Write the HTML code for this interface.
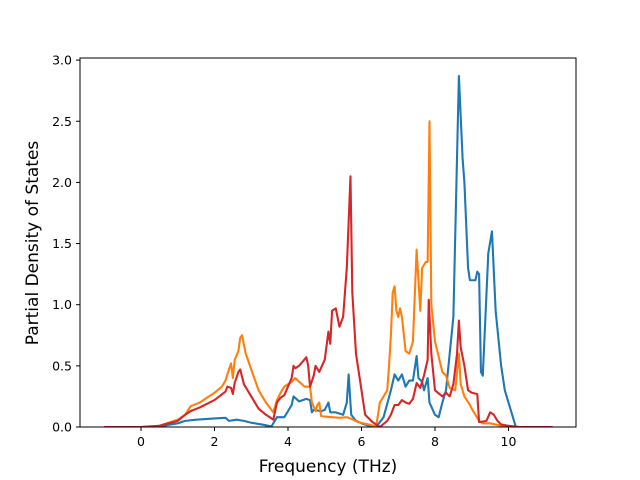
<!DOCTYPE html>
<html><head><meta charset="utf-8"><style>
html,body{margin:0;padding:0;background:#fff}
svg{display:block;font-family:"DejaVu Sans","Liberation Sans",sans-serif}
</style></head><body>
<svg id="chart" width="640" height="480" xmlns="http://www.w3.org/2000/svg">
<rect x="0" y="0" width="640" height="480" fill="#fff"/>
<g id="ticks"></g>
<g id="series" clip-path="url(#clip)"></g>
<clipPath id="clip"><rect x="80" y="58" width="496" height="369"/></clipPath>
<rect x="80" y="58" width="496" height="369" fill="none" stroke="#000" stroke-width="1"/>
<text x="328" y="472" font-size="17" text-anchor="middle">Frequency (THz)</text>
<text transform="translate(38,243) rotate(-90)" font-size="17" text-anchor="middle">Partial Density of States</text>
</svg>
<script>
const xTicks=[0,2,4,6,8,10];
const yTicks=[0.0,0.5,1.0,1.5,2.0,2.5,3.0];
const blueX=[-1,0,0.5,1,1.2,1.5,2,2.3,2.4,2.6,2.8,3,3.3,3.55,3.7,3.9,4.1,4.15,4.3,4.5,4.6,4.65,4.7,4.9,5.0,5.1,5.15,5.3,5.5,5.6,5.65,5.72,5.85,6.0,6.2,6.4,6.6,6.8,6.9,7.0,7.1,7.2,7.3,7.4,7.5,7.55,7.65,7.7,7.8,7.85,8.0,8.1,8.2,8.3,8.5,8.65,8.75,8.8,8.9,8.95,9.1,9.15,9.2,9.25,9.3,9.45,9.55,9.65,9.8,9.9,10.0,10.1,10.2,11.2];
const blueY=[0,0,0.005,0.03,0.05,0.06,0.07,0.075,0.05,0.06,0.05,0.035,0.02,0.005,0.08,0.08,0.18,0.25,0.21,0.23,0.22,0.12,0.14,0.13,0.14,0.2,0.12,0.12,0.1,0.2,0.43,0.1,0.05,0.03,0.01,0,0.08,0.3,0.43,0.38,0.43,0.33,0.38,0.38,0.58,0.4,0.37,0.3,0.4,0.2,0.1,0.08,0.2,0.3,0.9,2.87,2.2,2.0,1.3,1.2,1.2,1.27,1.25,0.45,0.42,1.42,1.6,0.95,0.5,0.3,0.2,0.1,0,0];
const orangeX=[-1,0,0.5,1,1.2,1.35,1.6,2,2.2,2.3,2.35,2.45,2.5,2.55,2.65,2.7,2.75,2.85,3,3.2,3.4,3.6,3.7,3.8,3.9,4.1,4.2,4.3,4.45,4.6,4.65,4.75,4.8,4.85,4.9,5.0,5.2,5.4,5.6,5.7,5.9,6.2,6.4,6.5,6.7,6.75,6.8,6.85,6.9,6.95,7.0,7.05,7.1,7.2,7.3,7.4,7.5,7.6,7.65,7.75,7.8,7.85,7.9,8.0,8.2,8.3,8.4,8.55,8.65,8.7,8.8,8.95,9.0,9.2,9.3,9.5,9.8,10.2,11.2];
const orangeY=[0,0,0.01,0.06,0.1,0.17,0.2,0.28,0.33,0.38,0.43,0.52,0.4,0.55,0.62,0.73,0.75,0.6,0.47,0.3,0.2,0.12,0.22,0.28,0.33,0.37,0.4,0.37,0.33,0.33,0.2,0.13,0.18,0.2,0.09,0.085,0.08,0.075,0.08,0.07,0.04,0.02,0.005,0.2,0.3,0.5,0.75,1.1,1.15,0.95,0.9,0.97,0.9,0.62,0.6,0.7,1.45,0.95,1.3,1.35,1.35,2.5,1.0,0.7,0.45,0.42,0.32,0.3,0.6,0.35,0.25,0.18,0.15,0.05,0.03,0.03,0.01,0,0];
const redX=[-1,0,0.5,1,1.2,1.35,1.6,2,2.3,2.35,2.45,2.5,2.55,2.65,2.7,2.8,3,3.2,3.4,3.6,3.7,3.8,3.9,4.1,4.15,4.2,4.3,4.5,4.55,4.6,4.7,4.75,4.85,5.0,5.1,5.15,5.2,5.3,5.4,5.5,5.6,5.7,5.75,5.85,6.0,6.1,6.3,6.5,6.7,6.8,6.9,7.0,7.1,7.2,7.3,7.4,7.5,7.6,7.7,7.8,7.83,7.9,8.0,8.2,8.3,8.4,8.5,8.6,8.65,8.7,8.8,8.9,9.0,9.15,9.2,9.4,9.5,9.6,9.7,9.8,10.0,10.3,11.2];
const redY=[0,0,0.01,0.05,0.1,0.13,0.16,0.22,0.29,0.33,0.32,0.27,0.36,0.45,0.47,0.35,0.25,0.15,0.1,0.06,0.2,0.24,0.26,0.4,0.5,0.48,0.5,0.57,0.5,0.33,0.42,0.5,0.45,0.55,0.78,0.68,0.95,0.97,0.82,0.9,1.3,2.05,1.1,0.6,0.3,0.1,0.04,0,0.05,0.1,0.18,0.18,0.22,0.2,0.19,0.23,0.36,0.32,0.42,0.55,1.04,0.6,0.3,0.25,0.28,0.25,0.35,0.6,0.87,0.65,0.5,0.3,0.28,0.27,0.04,0.05,0.12,0.1,0.05,0.02,0.01,0,0];
const X0=141,XS=36.75,Y0=427,YS=122.3;
const sx=v=>X0+v*XS, sy=v=>Y0-v*YS;
const NS="http://www.w3.org/2000/svg";
const tg=document.getElementById('ticks'), sg=document.getElementById('series');
xTicks.forEach(t=>{
  const l=document.createElementNS(NS,'line');
  l.setAttribute('x1',sx(t));l.setAttribute('x2',sx(t));l.setAttribute('y1',427);l.setAttribute('y2',431);l.setAttribute('stroke','#000');
  
  
  tg.appendChild(l);
  const tx=document.createElementNS(NS,'text');
  tx.setAttribute('x',sx(t));tx.setAttribute('y',446);tx.setAttribute('font-size','12.5');tx.setAttribute('text-anchor','middle');
  tx.textContent=t;
  
  
  tg.appendChild(tx);
});
yTicks.forEach(t=>{
  const l=document.createElementNS(NS,'line');
  l.setAttribute('x1',76);l.setAttribute('x2',80);l.setAttribute('y1',sy(t));l.setAttribute('y2',sy(t));l.setAttribute('stroke','#000');
  
  
  tg.appendChild(l);
  const tx=document.createElementNS(NS,'text');
  tx.setAttribute('x',72);tx.setAttribute('y',sy(t)+4.5);tx.setAttribute('font-size','12.5');tx.setAttribute('text-anchor','end');
  tx.textContent=t.toFixed(1);
  
  
  tg.appendChild(tx);
});
function draw(xs,ys,color,name){
  const p=document.createElementNS(NS,'polyline');
  p.setAttribute('points',xs.map((x,i)=>sx(x).toFixed(2)+','+sy(ys[i]).toFixed(2)).join(' '));
  p.setAttribute('fill','none');p.setAttribute('stroke',color);p.setAttribute('stroke-width','2.1');p.setAttribute('stroke-linejoin','round');
  
  
  sg.appendChild(p);
}
draw(blueX,blueY,'#1f77b4','series-blue-line');
draw(orangeX,orangeY,'#ff7f0e','series-orange-line');
draw(redX,redY,'#d62728','series-red-line');
</script>
</body></html>
